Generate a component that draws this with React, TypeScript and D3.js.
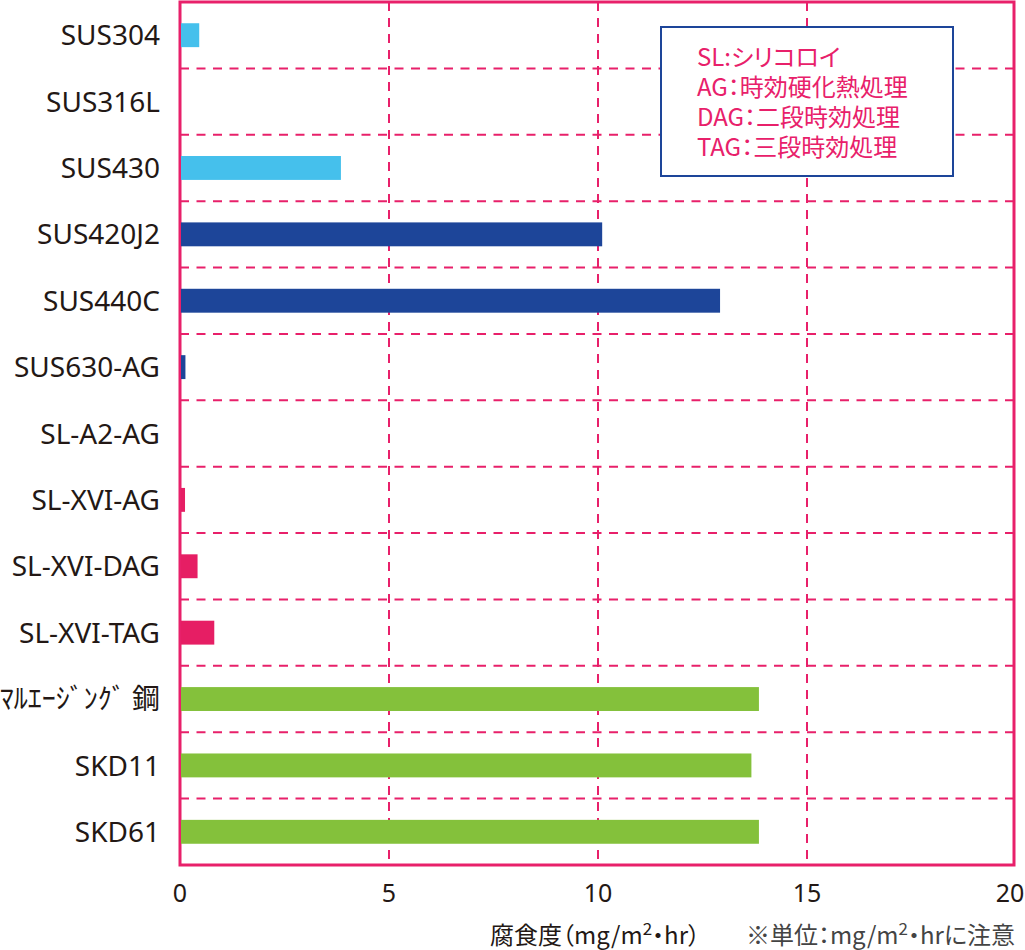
import { useEffect } from 'react'
import * as d3 from 'd3'

const categories = [
  'SUS304', 'SUS316L', 'SUS430', 'SUS420J2', 'SUS440C', 'SUS630-AG', 'SL-A2-AG',
  'SL-XVI-AG', 'SL-XVI-DAG', 'SL-XVI-TAG', 'ﾏﾙｴｰｼﾞﾝｸﾞ 鋼', 'SKD11', 'SKD61',
]
const values = [0.46, 0, 3.85, 10.1, 12.92, 0.13, 0, 0.12, 0.42, 0.82, 13.85, 13.67, 13.85]
const groups = ['aus', 'aus', 'aus', 'mart', 'mart', 'mart', 'sl', 'sl', 'sl', 'sl', 'tool', 'tool', 'tool']
const xTicks = [0, 5, 10, 15, 20]
const gridTicks = [5, 10, 15]
const legendLines = ['SL:シリコロイ', 'AG：時効硬化熱処理', 'DAG：二段時効処理', 'TAG：三段時効処理']

const GROUP_FILL: Record<string, string> = {
  aus: '#45c0ec',
  mart: '#1d4599',
  sl: '#e61e64',
  tool: '#84c13b',
}

const PINK = '#e8206a'
const INK = '#231815'
const FONT = '"Noto Sans", "Noto Sans CJK JP", sans-serif'
const JFONT = '"Noto Sans CJK JP", "Noto Sans", sans-serif'
const PALT = { fontFeatureSettings: '"palt"' }

const W = 1025
const H = 950
const PLOT = { left: 180, right: 1014, top: 2, bottom: 865 }

export default function App() {
  useEffect(() => {
    document.body.style.margin = '0'
  }, [])

  const x = d3.scaleLinear().domain([0, 20]).range([PLOT.left, PLOT.left + 836])
  const row = d3.scaleBand<string>().domain(categories).range([PLOT.top, PLOT.bottom]).padding(0)
  const barH = row.bandwidth() * 0.36

  // row boundaries for the dashed horizontal lines
  const rowLines = categories.slice(1).map(c => row(c) as number)

  return (
    <svg width={W} height={H} style={{ display: 'block', background: '#fff' }}>
      {/* grid */}
      {gridTicks.map(t => (
        <line key={'v' + t} x1={x(t)} x2={x(t)} y1={PLOT.top} y2={PLOT.bottom}
          stroke={PINK} strokeWidth={2} strokeDasharray="9 7" />
      ))}
      {rowLines.map((y, i) => (
        <line key={'h' + i} x1={PLOT.left} x2={PLOT.right} y1={y} y2={y}
          stroke={PINK} strokeWidth={2} strokeDasharray="9 7.5" />
      ))}

      {/* frame */}
      <rect x={PLOT.left} y={PLOT.top} width={PLOT.right - PLOT.left} height={PLOT.bottom - PLOT.top}
        fill="none" stroke={PINK} strokeWidth={3} />

      {/* bars */}
      {categories.map((c, i) => {
        const yc = (row(c) as number) + row.bandwidth() / 2
        const w = x(values[i]) - x(0)
        if (w <= 0) return null
        return (
          <rect key={c} x={x(0) + 1} y={yc - barH / 2} width={w - 1} height={barH}
            fill={GROUP_FILL[groups[i]]} />
        )
      })}

      {/* category labels */}
      {categories.map(c => (
        <text key={'l' + c} x={160} y={(row(c) as number) + row.bandwidth() / 2}
          dy="0.36em" textAnchor="end" fontFamily={c.startsWith('ﾏ') ? JFONT : FONT}
          fontSize={28} fill={INK}>
          {c}
        </text>
      ))}

      {/* x tick labels */}
      {xTicks.map(t => (
        <text key={'t' + t} x={Math.min(x(t), 1010)} y={893} dy="0.36em" textAnchor="middle"
          fontFamily={FONT} fontSize={25} fill={INK}>
          {t}
        </text>
      ))}

      {/* axis title and note */}
      <text x={490} y={935} dy="0.36em" fontFamily={JFONT} fontSize={24} fill={INK} style={PALT}>
        腐食度（mg/m<tspan fontSize={17} dy={-9}>2</tspan><tspan dy={9}>・hr）</tspan>
      </text>
      <text x={1015} y={935} dy="0.36em" textAnchor="end" fontFamily={JFONT} fontSize={24} fill="#444" style={PALT}>
        ※単位：mg/m<tspan fontSize={17} dy={-9}>2</tspan><tspan dy={9}>・hrに注意</tspan>
      </text>

      {/* legend */}
      <rect x={661} y={27} width={292} height={149} fill="#fff" stroke="#1d4599" strokeWidth={2} />
      {legendLines.map((s, i) => (
        <text key={'g' + i} x={697} y={57 + i * 30} dy="0.36em" fontFamily={JFONT}
          fontSize={24} fill={PINK} style={PALT}>
          {s}
        </text>
      ))}
    </svg>
  )
}
